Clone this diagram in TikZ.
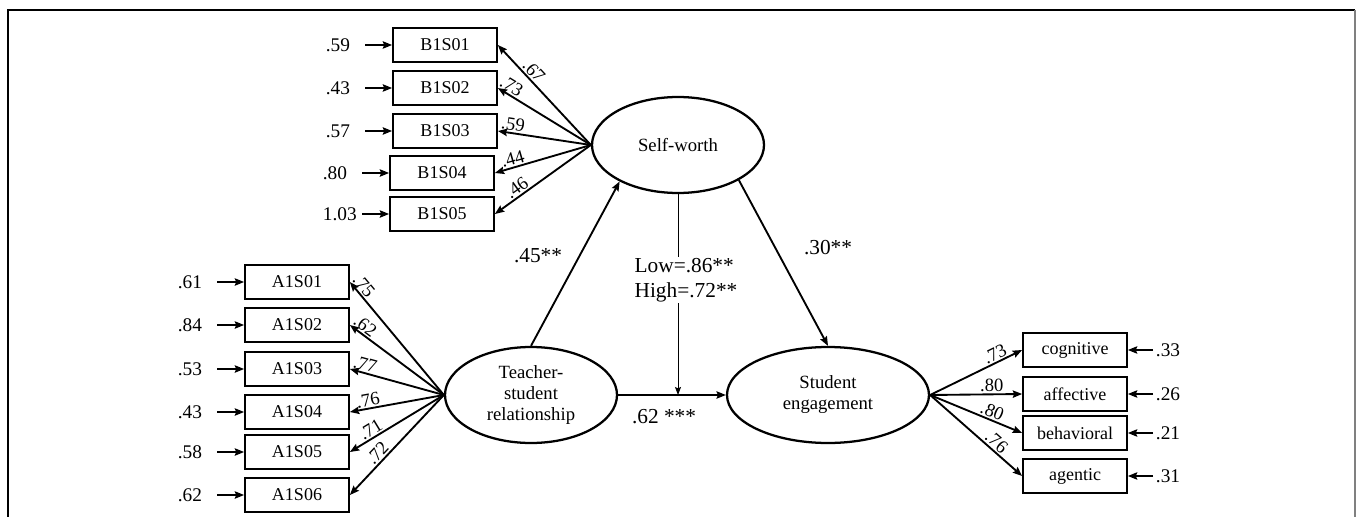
\documentclass[tikz,border=0pt]{standalone}
\usepackage{fontspec}
\setmainfont{Liberation Serif}
\usetikzlibrary{shapes.geometric,arrows.meta}
\begin{document}
\begin{tikzpicture}[x=0.75pt,y=-0.75pt,
  item/.style={draw,line width=1.3pt,minimum width=78pt,minimum height=26pt,inner sep=0pt,font=\fontsize{13.5}{15}\selectfont},
  latent/.style={draw,ellipse,line width=1.7pt,minimum height=72pt,inner sep=0pt,align=center,font=\fontsize{14}{15.75}\selectfont},
  errl/.style={anchor=east,inner xsep=11pt,inner ysep=0pt,font=\fontsize{14.5}{17}\selectfont},
  errr/.style={anchor=west,inner xsep=2pt,inner ysep=0pt,font=\fontsize{14.5}{17}\selectfont},
  load/.style={sloped,above,inner sep=1pt,font=\fontsize{14}{16}\selectfont},
  coef/.style={font=\fontsize{16}{19}\selectfont},
  arr/.style={-{Stealth[length=7pt,width=5.5pt,inset=1pt]},line width=1.4pt}]
\useasboundingbox (0,0) rectangle (1357,517);
\draw[line width=0.9pt] (8,517) -- (8,10) -- (1355,10);
\draw[line width=1.5pt,gray] (1355,10) -- (1355,517);
\node[latent,minimum width=129pt] (sw) at (678,145) {Self-worth};
\node[latent,minimum width=129pt] (tsr) at (531,395) {Teacher-\\student\\relationship};
\node[latent,minimum width=151.5pt] (se) at (828,395) {Student\\engagement};
\node[item] (b1) at (445,45) {B1S01};
\node[item] (b2) at (445,88) {B1S02};
\node[item] (b3) at (445,131) {B1S03};
\node[item] (b4) at (442,173) {B1S04};
\node[item] (b5) at (442,214) {B1S05};
\node[errl] (eb1) at (365,45) {.59};
\node[errl] (eb2) at (365,88) {.43};
\node[errl] (eb3) at (365,131) {.57};
\node[errl] (eb4) at (362,173) {.80};
\node[errl,inner xsep=3.75pt] (eb5) at (362,214) {1.03};
\draw[arr] (eb1) -- (b1);
\draw[arr] (eb2) -- (b2);
\draw[arr] (eb3) -- (b3);
\draw[arr] (eb4) -- (b4);
\draw[arr] (eb5) -- (b5);
\draw[arr] (sw.west) -- node[load,pos=.68] {.67} (b1.east);
\draw[arr] (sw.west) -- node[load,pos=.9] {.73} (b2.east);
\draw[arr] (sw.west) -- node[load,pos=.85] {.59} (b3.east);
\draw[arr] (sw.west) -- node[load,pos=.79] {.44} (b4.east);
\draw[arr] (sw.west) -- node[load,pos=.72] {.46} (b5.east);
\node[item] (a1) at (297,282) {A1S01};
\node[item] (a2) at (297,325) {A1S02};
\node[item] (a3) at (297,369) {A1S03};
\node[item] (a4) at (297,412) {A1S04};
\node[item] (a5) at (297,452) {A1S05};
\node[item] (a6) at (297,495) {A1S06};
\node[errl] (ea1) at (217,282) {.61};
\node[errl] (ea2) at (217,325) {.84};
\node[errl] (ea3) at (217,369) {.53};
\node[errl] (ea4) at (217,412) {.43};
\node[errl] (ea5) at (217,452) {.58};
\node[errl] (ea6) at (217,495) {.62};
\draw[arr] (ea1) -- (a1);
\draw[arr] (ea2) -- (a2);
\draw[arr] (ea3) -- (a3);
\draw[arr] (ea4) -- (a4);
\draw[arr] (ea5) -- (a5);
\draw[arr] (ea6) -- (a6);
\draw[arr] (tsr.west) -- node[load,pos=.92] {.75} (a1.east);
\draw[arr] (tsr.west) -- node[load,pos=.89] {.62} (a2.east);
\draw[arr] (tsr.west) -- node[load,pos=.86] {.77} (a3.east);
\draw[arr] (tsr.west) -- node[load,pos=.79] {.76} (a4.east);
\draw[arr] (tsr.west) -- node[load,pos=.73] {.71} (a5.east);
\draw[arr] (tsr.west) -- node[load,pos=.64] {.72} (a6.east);
\node[item] (cog) at (1075,350) {cognitive};
\node[item] (aff) at (1075,394) {affective};
\node[item] (beh) at (1075,433) {behavioral};
\node[item] (agt) at (1075,476) {agentic};
\node[errr] (ecog) at (1153,350) {.33};
\node[errr] (eaff) at (1153,394) {.26};
\node[errr] (ebeh) at (1153,433) {.21};
\node[errr] (eagt) at (1153,476) {.31};
\draw[arr] (ecog) -- (cog);
\draw[arr] (eaff) -- (aff);
\draw[arr] (ebeh) -- (beh);
\draw[arr] (eagt) -- (agt);
\draw[arr] (se.east) -- node[load,pos=.745] {.73} (cog.west);
\draw[arr] (se.east) -- node[load,pos=.67] {.80} (aff.west);
\draw[arr] (se.east) -- node[load,pos=.64] {.80} (beh.west);
\draw[arr] (se.east) -- node[load,pos=.66] {.76} (agt.west);
\draw[arr] (tsr.north) -- (sw.212);
\draw[arr] (sw.-30) -- (se.north);
\draw[arr] (tsr.east) -- (se.west);
\coordinate (modend) at (sw.south |- tsr.east);
\draw[-{Stealth[length=6pt,width=4.5pt,inset=1pt]},line width=0.6pt] (sw.south) -- (modend);
\node[coef,fill=white,align=left,inner sep=1pt] (mod) at (686,280) {Low=.86**\\High=.72**};
\node[coef] (c45) at (538,256) {.45**};
\node[coef] (c30) at (828,248) {.30**};
\node[coef] (c62) at (664,417) {.62 ***};
\end{tikzpicture}
\end{document}
